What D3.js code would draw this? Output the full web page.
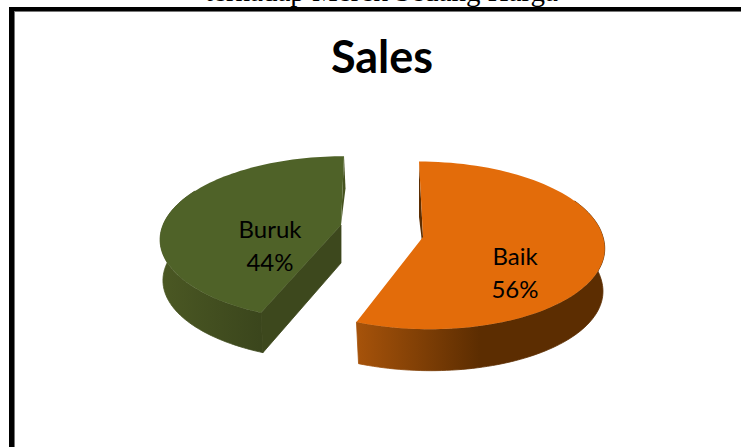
<!DOCTYPE html>
<html>
<head>
<meta charset="utf-8">
<script src="https://cdn.jsdelivr.net/npm/d3@7"></script>
<style>
    body { margin: 0; background: #fff; }
    svg { display: block; }
    text { font-family: Lato, sans-serif; fill: #000; }
</style>
</head>
<body>
<div id="chart"></div>
<script>
const categories = ["Baik", "Buruk"];
const values = [56, 44];
const chartTitle = "Sales";
const captionText = "terhadap Merek Sedang Harga";

const width = 741;
const height = 447;

// one fake-3D setup per slice: the slices are pulled apart and seen in perspective
const sliceLayout = {
    Baik: {
        cx: 423, cy: 237, r: 180, k: 83, p: 0.1, leanBack: 4, leanFront: 7, depth: 43, innerDepth: 41, shrink: 0.985,
        top: "#e36c0a", gradient: ["#a5520a", "#5c2d01"], gradX: [359, 480],
        labelX: 515, labelY: 265
    },
    Buruk: {
        cx: 341, cy: 225, r: 178, k: 80, p: 0.163, leanBack: -3, leanFront: -3, depth: 41, innerDepth: 38, shrink: 0.99,
        top: "#4f6228", gradient: ["#4a5723", "#3a451c"], gradX: [165, 265],
        labelX: 270, labelY: 238
    }
};

const svg = d3.select("#chart")
    .append("svg")
    .attr("width", width)
    .attr("height", height);

const defs = svg.append("defs");

// caption of the page above the chart, cut off by the crop
svg.append("text")
    .attr("x", 205)
    .attr("y", 1)
    .style("font-family", "'Liberation Serif', serif")
    .style("font-size", "29px")
    .text(captionText);

// frame runs off the right and bottom of the picture
svg.append("rect").attr("x", 9).attr("y", 7).attr("width", width).attr("height", 4).attr("fill", "#000");
svg.append("rect").attr("x", 9).attr("y", 7).attr("width", 5).attr("height", height).attr("fill", "#000");
svg.append("rect").attr("x", 14).attr("y", 11).attr("width", width).attr("height", 1).attr("fill", "#777");
svg.append("rect").attr("x", 14).attr("y", 11).attr("width", 1).attr("height", height).attr("fill", "#777");

svg.append("text")
    .attr("x", 382)
    .attr("y", 73)
    .attr("text-anchor", "middle")
    .style("font-size", "45px")
    .style("font-weight", 700)
    .text(chartTitle);

const pie = d3.pie().sort(null).startAngle(0).endAngle(2 * Math.PI);
const arcs = pie(values);

const line = d3.line();

// angle clockwise from the top of the disc -> screen position
function project(s, a, scale, drop) {
    const u = Math.sin(a) * scale;
    const v = -Math.cos(a) * scale;
    const w = 1 - s.p * v;
    const lean = v < 0 ? s.leanBack : s.leanFront;
    return [
        s.cx + s.r * u / w + lean * v + (drop ? 1 : 0),
        s.cy + s.k * v / w + drop
    ];
}

function rim(s, a0, a1, scale, drop) {
    const n = 90;
    return d3.range(n + 1).map(i => project(s, a0 + (a1 - a0) * i / n, scale, drop));
}

const slices = svg.selectAll("g.slice")
    .data(arcs)
    .enter()
    .append("g")
    .attr("class", "slice");

slices.each(function (d, i) {
    const g = d3.select(this);
    const s = sliceLayout[categories[i]];

    const gradId = `side-${i}`;
    const grad = defs.append("linearGradient")
        .attr("id", gradId)
        .attr("gradientUnits", "userSpaceOnUse")
        .attr("x1", s.gradX[0]).attr("x2", s.gradX[1])
        .attr("y1", 0).attr("y2", 0);
    grad.append("stop").attr("offset", 0).attr("stop-color", s.gradient[0]);
    grad.append("stop").attr("offset", 1).attr("stop-color", s.gradient[1]);

    const center = [s.cx, s.cy];

    // outer wall, only the part of the rim that faces the viewer
    const from = Math.max(d.startAngle, Math.PI * 0.35);
    const to = Math.min(d.endAngle, Math.PI * 1.65);
    const wallTop = rim(s, from, to, 1, 0);
    const wallBottom = rim(s, from, to, s.shrink, s.depth);
    g.append("path")
        .attr("d", line(wallTop.concat(wallBottom.reverse())) + "Z")
        .attr("fill", `url(#${gradId})`)
        .attr("stroke", `url(#${gradId})`)
        .attr("stroke-width", 0.8);

    if (i === 1) {
        // the cut face of this slice looks towards the viewer
        const cutRim = project(s, d.startAngle, 1, 0);
        const cutRimLow = project(s, d.startAngle, s.shrink, s.depth);
        g.append("path")
            .attr("d", line([center, cutRim, cutRimLow, [s.cx, s.cy + s.innerDepth]]) + "Z")
            .attr("fill", "#3d481d")
            .attr("stroke", "#3d481d")
            .attr("stroke-width", 0.8);
        const backRim = project(s, d.endAngle, 1, 0);
        g.append("path")
            .attr("d", line([backRim, [backRim[0] + 1.5, backRim[1] + 32], center]) + "Z")
            .attr("fill", "#46531f");
    } else {
        // thin sliver of the inner wall beside the top edge
        const backRim = project(s, d.startAngle, 1, 0);
        g.append("path")
            .attr("d", line([backRim, center, [s.cx - 1, s.cy + 5], [s.cx - 4, s.cy - 20]]) + "Z")
            .attr("fill", "#5c2d01");
    }

    // top face
    const topFace = [center].concat(rim(s, d.startAngle, d.endAngle, 1, 0));
    g.append("path")
        .attr("d", line(topFace) + "Z")
        .attr("fill", s.top);

    g.append("text")
        .attr("x", s.labelX)
        .attr("y", s.labelY)
        .attr("text-anchor", "middle")
        .style("font-size", "24px")
        .text(categories[i]);

    g.append("text")
        .attr("x", s.labelX)
        .attr("y", s.labelY + 33)
        .attr("text-anchor", "middle")
        .style("font-size", "24px")
        .text(`${values[i]}%`);
});
</script>
</body>
</html>
